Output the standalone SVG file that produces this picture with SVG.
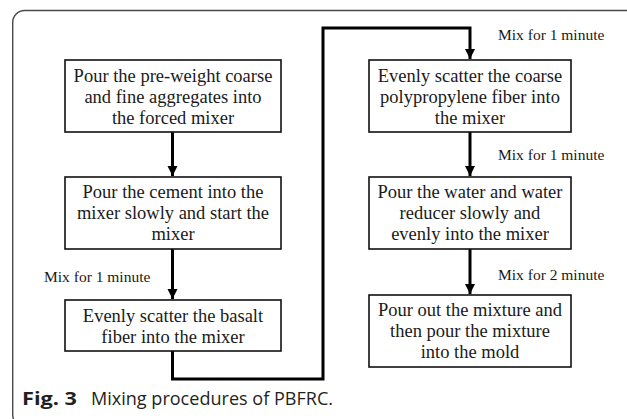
<svg xmlns="http://www.w3.org/2000/svg" width="627" height="419" viewBox="0 0 627 419">
  <defs>
    <style>
      .frame { fill: none; stroke: #4a4a4a; stroke-width: 1.4; }
      .bx { fill: #ffffff; stroke: #111111; stroke-width: 1.6; }
      .t { font-family: "Liberation Serif", "Times New Roman", serif; font-size: 18.5px; fill: #1a1a1a; text-anchor: middle; }
      .label { font-family: "Liberation Serif", "Times New Roman", serif; font-size: 15.5px; fill: #1a1a1a; }
      .conn { fill: none; stroke: #000000; stroke-width: 3; stroke-linejoin: miter; }
      .cap { font-family: "Open Sans", "Noto Sans", sans-serif; font-size: 18px; fill: #231f20; }
    </style>
    <marker id="arrow" markerUnits="userSpaceOnUse" markerWidth="12" markerHeight="12" viewBox="0 0 12 12" refX="10" refY="6" orient="auto">
      <path d="M0,1 L10,6 L0,11 Z" fill="#000000"/>
    </marker>
  </defs>

  <rect class="frame" x="12.7" y="10.5" width="700" height="416" rx="12" ry="12"/>

  <g id="connectors">
    <path class="conn" d="M172.5,132 L172.5,176" marker-end="url(#arrow)"/>
    <path class="conn" d="M172.5,249 L172.5,299" marker-end="url(#arrow)"/>
    <path class="conn" d="M172.5,351 L172.5,379 L323,379 L323,28 L470,28 L470,59" marker-end="url(#arrow)"/>
    <path class="conn" d="M470,132 L470,176" marker-end="url(#arrow)"/>
    <path class="conn" d="M470,249 L470,294" marker-end="url(#arrow)"/>
  </g>

  <g id="labels">
    <text class="label" x="498" y="40">Mix for 1 minute</text>
    <text class="label" x="498" y="160">Mix for 1 minute</text>
    <text class="label" x="498" y="280">Mix for 2 minute</text>
    <text class="label" x="44" y="282">Mix for 1 minute</text>
  </g>

  <g id="node1">
    <rect class="bx" x="65" y="60" width="216" height="72"/>
    <text class="t" x="173" y="82">Pour the pre-weight coarse</text>
    <text class="t" x="173" y="103">and fine aggregates into</text>
    <text class="t" x="173" y="124">the forced mixer</text>
  </g>
  <g id="node2">
    <rect class="bx" x="65" y="177" width="216" height="72"/>
    <text class="t" x="173" y="198">Pour the cement into the</text>
    <text class="t" x="173" y="219">mixer slowly and start the</text>
    <text class="t" x="173" y="240">mixer</text>
  </g>
  <g id="node3">
    <rect class="bx" x="65" y="300" width="216" height="51"/>
    <text class="t" x="173" y="321.5">Evenly scatter the basalt</text>
    <text class="t" x="173" y="342.5">fiber into the mixer</text>
  </g>
  <g id="node4">
    <rect class="bx" x="369" y="60" width="202" height="72"/>
    <text class="t" x="470" y="82">Evenly scatter the coarse</text>
    <text class="t" x="470" y="103">polypropylene fiber into</text>
    <text class="t" x="470" y="124">the mixer</text>
  </g>
  <g id="node5">
    <rect class="bx" x="369" y="177" width="202" height="72"/>
    <text class="t" x="470" y="198">Pour the water and water</text>
    <text class="t" x="470" y="219">reducer slowly and</text>
    <text class="t" x="470" y="240">evenly into the mixer</text>
  </g>
  <g id="node6">
    <rect class="bx" x="369" y="295" width="202" height="72"/>
    <text class="t" x="470" y="316">Pour out the mixture and</text>
    <text class="t" x="470" y="337">then pour the mixture</text>
    <text class="t" x="470" y="358">into the mold</text>
  </g>

  <g id="caption">
    <text class="cap" x="22" y="405" font-weight="bold" textLength="55" lengthAdjust="spacingAndGlyphs">Fig. 3</text>
    <text class="cap" x="91" y="405" textLength="242" lengthAdjust="spacingAndGlyphs">Mixing procedures of PBFRC.</text>
  </g>
</svg>
